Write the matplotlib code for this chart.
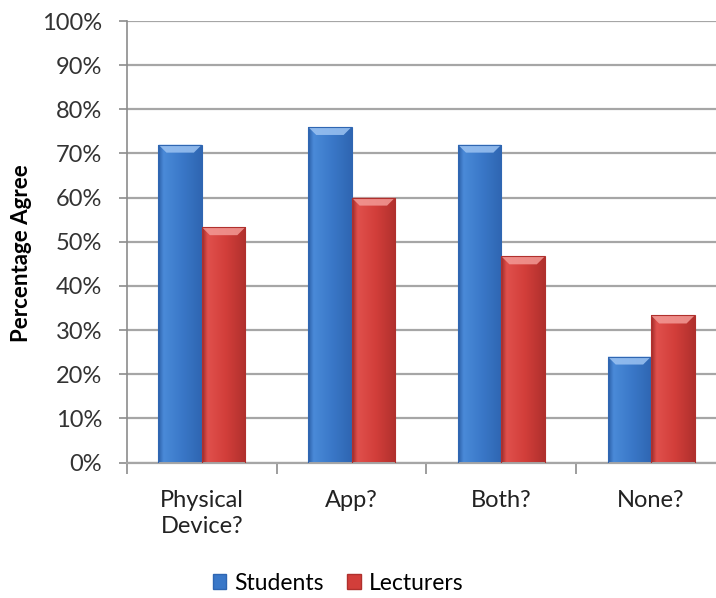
import numpy as np
import matplotlib.pyplot as plt
from matplotlib.patches import Patch, Polygon
from matplotlib.colors import LinearSegmentedColormap

# Datos de la encuesta
categorias = ['Physical\nDevice?', 'App?', 'Both?', 'None?']
estudiantes = [72, 76, 72, 24]
profesores = [53.3, 60, 46.7, 33.3]
series = ['Students', 'Lecturers']

plt.rcParams['font.family'] = ['Lato', 'DejaVu Sans']

# Colores (borde oscuro, centro, cuerpo, borde derecho, bisel superior)
azul = ['#2a5ea6', '#4a8ad8', '#3a78c8', '#2f66b2', '#9cc3f2']
rojo = ['#9e2a28', '#e0504c', '#d23e3a', '#b0302d', '#f39a96']


def barra_biselada(ax, rect, tonos, px_x, px_y):
    # relleno con degradado horizontal recortado a la barra
    x0, y0 = rect.get_x(), rect.get_y()
    w, h = rect.get_width(), rect.get_height()
    cmap = LinearSegmentedColormap.from_list('g', [(0, tonos[0]), (0.12, tonos[1]),
                                                   (0.55, tonos[2]), (1, tonos[3])])
    grad = np.linspace(0, 1, 64).reshape(1, -1)
    im = ax.imshow(grad, cmap=cmap, aspect='auto', extent=(x0, x0 + w, y0, y0 + h),
                   zorder=3, interpolation='bicubic')
    im.set_clip_path(rect)
    # bisel superior
    bx, by = 8 * px_x, 8 * px_y
    tapa = Polygon([(x0, y0 + h), (x0 + w, y0 + h), (x0 + w - bx, y0 + h - by),
                    (x0 + bx, y0 + h - by)], closed=True, facecolor=tonos[4],
                   edgecolor='none', alpha=0.85, zorder=4)
    ax.add_patch(tapa)
    rect.set_facecolor('none')
    rect.set_edgecolor(tonos[3])
    rect.set_linewidth(0.8)
    rect.set_zorder(5)


fig = plt.figure(figsize=(7.16, 5.98), dpi=100)
ax = fig.add_axes([127 / 716, 135.5 / 598, 599 / 716, 441.5 / 598])

x = np.arange(len(categorias))
ancho = 0.29
b1 = ax.bar(x - ancho / 2, estudiantes, ancho, zorder=3)
b2 = ax.bar(x + ancho / 2, profesores, ancho, zorder=3)

ax.set_xlim(-0.5, 3.5)
ax.set_ylim(0, 100)

# conversion de pixeles a unidades de datos
px_x = 4 / 599
px_y = 100 / 441.5
for r in b1:
    barra_biselada(ax, r, azul, px_x, px_y)
for r in b2:
    barra_biselada(ax, r, rojo, px_x, px_y)

# ejes y grilla
ax.set_yticks(np.arange(0, 101, 10))
ax.set_yticklabels([f'{v}%' for v in range(0, 101, 10)])
ax.yaxis.grid(True, color='#a6a6a6', linewidth=1.6, zorder=0)
ax.set_axisbelow(True)
for s in ['top', 'right']:
    ax.spines[s].set_visible(False)
ax.spines['left'].set_color('#8c8c8c')
ax.spines['bottom'].set_color('#a6a6a6')
ax.spines['left'].set_linewidth(1.2)
ax.spines['bottom'].set_linewidth(1.6)
ax.tick_params(axis='y', length=6, color='#8c8c8c', width=1.2, labelsize=17,
               labelcolor='#333333', pad=12)

ax.set_xticks(x)
ax.set_xticklabels(categorias, fontsize=17, color='#222222', linespacing=1.25)
ax.set_xticks(np.arange(-0.5, 4, 1), minor=True)
ax.tick_params(axis='x', which='major', length=0, pad=20)
ax.tick_params(axis='x', which='minor', length=8, color='#8c8c8c', width=1.2)

ax.set_ylabel('Percentage Agree', fontsize=16, fontweight='bold')
ax.yaxis.set_label_coords(-0.159, 0.475)

handles = [Patch(facecolor=azul[2], edgecolor=azul[3]),
           Patch(facecolor=rojo[2], edgecolor=rojo[3])]
fig.legend(handles, series, loc='center', bbox_to_anchor=(338 / 716, 1 - 583 / 598),
           ncol=2, frameon=False, fontsize=16.5, handlelength=0.6, handleheight=0.6,
           handletextpad=0.35, columnspacing=1.0)

fig.savefig('out.png', dpi=100)
